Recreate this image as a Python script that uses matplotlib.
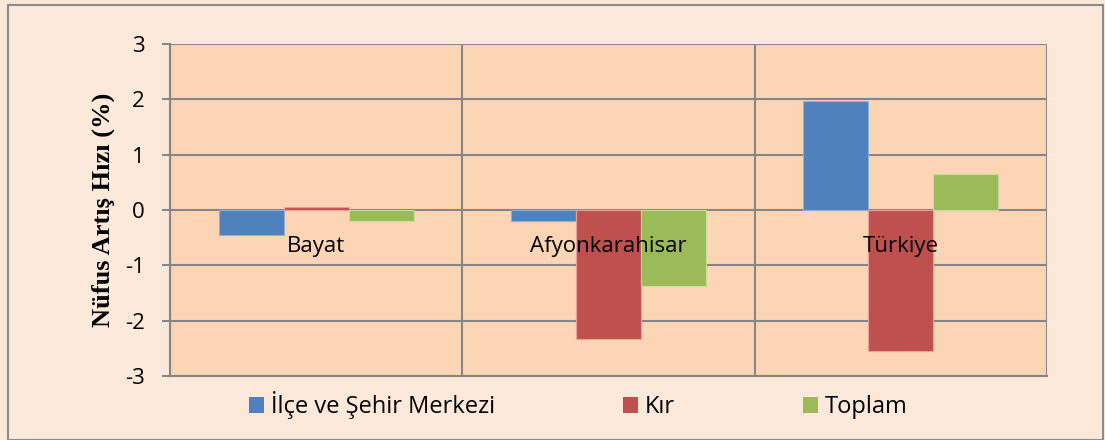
import matplotlib
matplotlib.use('Agg')
import matplotlib.pyplot as plt
from matplotlib.patches import Rectangle, Patch
import numpy as np

categories = ['Bayat', 'Afyonkarahisar', 'Türkiye']
series_names = ['İlçe ve Şehir Merkezi', 'Kır', 'Toplam']
ilce_sehir = [-0.45, -0.2, 1.97]
kir = [0.05, -2.33, -2.55]
toplam = [-0.2, -1.37, 0.65]
yticks = [-3, -2, -1, 0, 1, 2, 3]

colors = ['#4f81bd', '#c0504d', '#9bbb59']
edges = ['#8fb0dc', '#e8a09e', '#c9dc9c']
fig_bg = '#fde9d9'
plot_bg = '#fcd5b4'
grid_c = '#868686'

plt.rcParams['font.family'] = ['Open Sans', 'DejaVu Sans']

fig = plt.figure(figsize=(11.05, 4.4), dpi=100)
fig.patch.set_facecolor(fig_bg)
fig.patches.append(Rectangle((8 / 1105, 0.0), 1095 / 1105, 435 / 440,
                             transform=fig.transFigure, fill=False,
                             edgecolor='#8c8c8c', linewidth=1.5))

ax = fig.add_axes([170 / 1105, 1 - 376 / 440, 877 / 1105, 332 / 440])
ax.set_facecolor(plot_bg)

x = np.arange(len(categories))
w = 0.222
for i, vals in enumerate([ilce_sehir, kir, toplam]):
    ax.bar(x + (i - 1) * w, vals, w, color=colors[i], edgecolor=edges[i],
           linewidth=0.8, zorder=3, label=series_names[i])

ax.set_xlim(-0.5, len(categories) - 0.5)
ax.set_ylim(-3, 3)
ax.set_yticks(yticks)
ax.set_yticklabels([str(v) for v in yticks], fontsize=16)
ax.yaxis.grid(True, color=grid_c, linewidth=1.5, zorder=1)
for b in np.arange(len(categories) + 1) - 0.5:
    ax.axvline(b, color=grid_c, linewidth=1.5, zorder=1)
ax.set_xticks([])
ax.tick_params(axis='y', length=6, width=1.5, color=grid_c, pad=12)
for s in ['top', 'right']:
    ax.spines[s].set_visible(False)
for s in ['left', 'bottom']:
    ax.spines[s].set_color(grid_c)
    ax.spines[s].set_linewidth(1.5)

for i, c in enumerate(categories):
    ax.text(x[i], -0.76, c, ha='center', va='baseline', fontsize=16, zorder=4)

ax.set_ylabel('Nüfus Artış Hızı (%)', family='Liberation Serif',
              fontweight='bold', fontsize=19, labelpad=7)

handles = [Patch(facecolor=colors[i], edgecolor='none') for i in range(3)]
fig.legend(handles, series_names, loc='center', ncol=3,
           bbox_to_anchor=(0.5235, 1 - 405 / 440), frameon=False,
           fontsize=17, handlelength=0.64, handleheight=0.64,
           handletextpad=0.3, columnspacing=5.4)

fig.savefig('out.png', dpi=100, facecolor=fig_bg)
